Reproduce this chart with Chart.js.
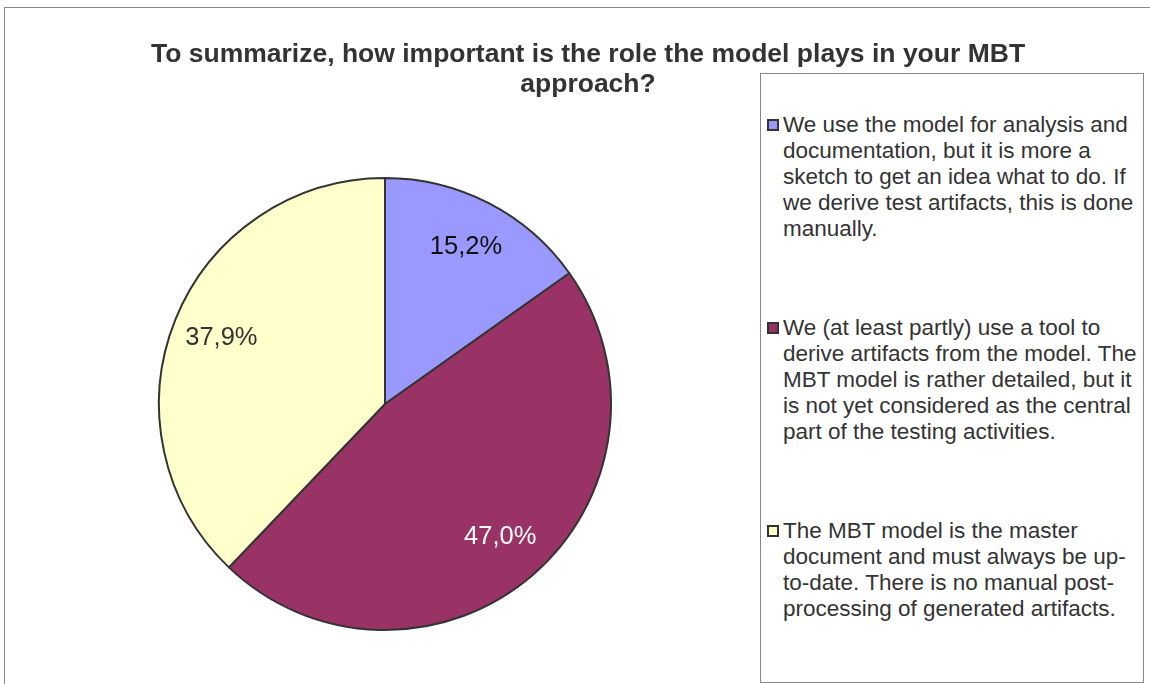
<!DOCTYPE html>
<html>
<head>
<meta charset="utf-8">
<script src="https://cdn.jsdelivr.net/npm/chart.js@4.4.1/dist/chart.umd.min.js"></script>
<style>
  html, body { margin: 0; padding: 0; background: #fff; }
  body { width: 1150px; height: 684px; position: relative; overflow: hidden;
         font-family: "Liberation Sans", Arial, sans-serif; color: #333; }
  #frame { position: absolute; left: 4px; top: 7px; width: 1160px; height: 700px;
           border: 1px solid #888; box-sizing: border-box; }
  #wrap { position: absolute; left: 0; top: 0; width: 1150px; height: 684px; }
  #title { position: absolute; left: 88px; width: 1000px; top: 38px; text-align: center;
           font-weight: bold; font-size: 26.5px; line-height: 30px; color: #333; white-space: nowrap; }
  #legend { position: absolute; left: 760px; top: 73px; width: 384px; height: 610px;
            border: 1px solid #888; box-sizing: border-box; background: #fff; }
  .item { position: absolute; left: 22px; font-size: 22.5px; line-height: 26px; white-space: nowrap; color: #333; }
  .swatch { position: absolute; left: -16px; top: 7px; width: 12px; height: 12px;
            box-sizing: border-box; border: 2px solid #333; }
</style>
</head>
<body>
<div id="frame"></div>
<div id="wrap"><canvas id="c" width="1150" height="684"></canvas></div>
<div id="title"></div>
<div id="legend"></div>
<script>
const titleLines = ["To summarize, how important is the role the model plays in your MBT", "approach?"];
const categories = [
  ["We use the model for analysis and", "documentation, but it is more a", "sketch to get an idea what to do. If", "we derive test artifacts, this is done", "manually."],
  ["We (at least partly) use a tool to", "derive artifacts from the model. The", "MBT model is rather detailed, but it", "is not yet considered as the central", "part of the testing activities."],
  ["The MBT model is the master", "document and must always be up-", "to-date. There is no manual post-", "processing of generated artifacts."]
];
const values = [15.2, 47.0, 37.9];
const valueLabels = ["15,2%", "47,0%", "37,9%"];
const colors = ["#9999FF", "#993366", "#FFFFCC"];
const labelColors = ["#111111", "#FFFFFF", "#333333"];

document.getElementById('title').innerHTML = titleLines.join('<br>');

// HTML legend
const legend = document.getElementById('legend');
const itemTops = [38, 241, 444];
categories.forEach((lines, i) => {
  const d = document.createElement('div');
  d.className = 'item';
  d.style.top = itemTops[i] + 'px';
  d.innerHTML = '<span class="swatch" style="background:' + colors[i] + '"></span>' + lines.join('<br>');
  legend.appendChild(d);
});

const labelPlugin = {
  id: 'sliceLabels',
  afterDatasetsDraw(chart) {
    const ctx = chart.ctx;
    const meta = chart.getDatasetMeta(0);
    ctx.save();
    ctx.font = '25.5px "Liberation Sans", Arial, sans-serif';
    ctx.textAlign = 'center';
    ctx.textBaseline = 'middle';
    meta.data.forEach((arc, i) => {
      const p = arc.getProps(['x', 'y', 'startAngle', 'endAngle', 'outerRadius'], true);
      const mid = (p.startAngle + p.endAngle) / 2;
      const r = p.outerRadius * 0.78;
      ctx.fillStyle = labelColors[i];
      ctx.fillText(valueLabels[i], p.x + Math.cos(mid) * r, p.y + Math.sin(mid) * r);
    });
    ctx.restore();
  }
};

new Chart(document.getElementById('c'), {
  type: 'pie',
  data: {
    labels: categories.map(l => l.join(' ')),
    datasets: [{
      data: values,
      backgroundColor: colors,
      borderColor: '#333333',
      borderWidth: 2
    }]
  },
  options: {
    responsive: false,
    animation: false,
    layout: { padding: { left: 158, right: 538, top: 176, bottom: 52 } },
    plugins: { legend: { display: false }, tooltip: { enabled: false }, title: { display: false } }
  },
  plugins: [labelPlugin]
});
</script>
</body>
</html>
